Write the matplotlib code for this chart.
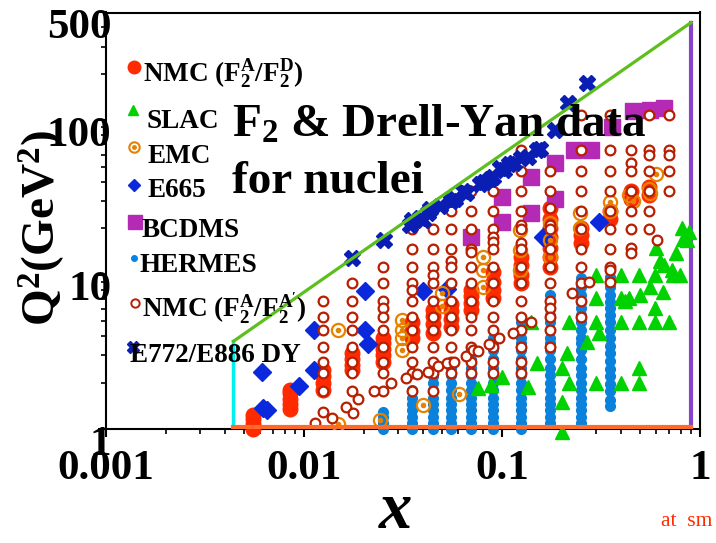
import matplotlib.pyplot as plt
from matplotlib.ticker import FixedLocator, FixedFormatter, NullFormatter
from matplotlib.transforms import ScaledTranslation

plt.rcParams['font.family'] = 'Liberation Serif'
plt.rcParams['font.weight'] = 'bold'
plt.rcParams['mathtext.fontset'] = 'custom'
plt.rcParams['mathtext.rm'] = 'Liberation Serif:bold'
plt.rcParams['mathtext.it'] = 'Liberation Serif:italic:bold'
plt.rcParams['mathtext.bf'] = 'Liberation Serif:bold'

W, H = 716, 543

# NMC F2A/F2D : columns of (x, [Q2 ...])
nmc_d_cols = [
    (0.0055, [1.0, 1.08, 1.16, 1.23]),
    (0.0085, [1.35, 1.45, 1.57, 1.7, 1.78]),
    (0.0125, [1.8, 2.0, 2.2, 2.4]),
    (0.0175, [2.4, 2.6, 2.85, 3.1]),
    (0.025, [2.7, 3.0, 3.3, 3.6, 3.9]),
    (0.035, [3.9, 4.3, 4.9]),
    (0.045, [4.2, 4.8, 5.4, 5.9]),
    (0.055, [4.6, 5.2, 5.8, 6.5]),
    (0.07, [5.9, 6.6, 7.3, 7.9]),
    (0.09, [7.1, 8.0, 9.0, 10.4]),
    (0.125, [8.8, 10.0, 11.5, 13.0]),
    (0.175, [11.2, 13.0, 15.0, 17.5, 20.0, 23.0, 27.0]),
    (0.25, [16.0, 18.0, 20.0]),
    (0.35, [23.0, 26.0]),
    (0.45, [31.0, 35.0]),
    (0.55, [33.0, 37.0]),
]

# NMC F2A/F2A'
nmc_a_cols = [
    (0.0125, [6.8, 5.3, 4.4, 3.4, 2.7, 2.3, 1.76]),
    (0.0175, [8.8, 6.8, 5.3, 4.4, 3.4, 2.7, 2.3, 1.76]),
    (0.025, [11.2, 8.8, 6.8, 6.1, 5.3, 4.4, 3.4, 2.7, 2.3, 1.76]),
    (0.035, [19.7, 14.6, 11.2, 8.8, 7.9, 6.8, 5.3, 4.4, 3.4, 2.7, 2.3, 1.76]),
    (0.045, [19.7, 14.6, 11.2, 9.9, 8.8, 6.8, 5.3, 4.4, 3.4, 2.7, 2.3, 1.76]),
    (0.055, [26, 19.7, 14.6, 12.2, 11.2, 8.8, 6.8, 5.3, 4.4, 3.4, 2.7, 2.3]),
    (0.07, [35, 26, 19.7, 14.6, 14.0, 11.2, 8.8, 6.8, 5.3, 4.4, 3.4, 2.7, 2.3]),
    (0.09, [35, 26, 19.7, 17.5, 16.2, 14.6, 11.2, 8.8, 6.8, 5.3, 4.4, 3.4, 2.7, 2.3]),
    (0.125, [64, 47, 35, 26, 21, 19.7, 16, 14.6, 11.2, 8.8, 6.8, 5.3, 4.4, 3.4, 2.7, 2.3]),
    (0.175, [47, 35, 27, 21, 19.7, 14.6, 11.2, 8.8, 6.8, 6.1, 5.3, 4.4, 3.4]),
    (0.25, [108, 64, 47, 35, 26, 19.7, 14.6, 11.2, 8.8, 6.8, 5.3]),
    (0.35, [108, 64, 47, 35, 26, 19.7, 14.6, 11.2, 10.7, 8.9]),
    (0.45, [64, 53, 47, 35, 26, 19.7, 15, 13.8]),
    (0.55, [108, 64, 60, 47, 35, 26, 19.7]),
    (0.70, [108, 64, 60, 47, 35]),
]
nmc_a_low_x = [0.0114, 0.0125, 0.0138, 0.0163, 0.0177, 0.0187, 0.0226, 0.0275,
               0.0327, 0.0372, 0.0423, 0.0475, 0.0527, 0.0573, 0.0658, 0.0714,
               0.0757, 0.086, 0.0966, 0.114, 0.14, 0.226, 0.275, 0.607]
nmc_a_low_q2 = [1.09, 1.29, 1.18, 1.39, 1.27, 1.56, 1.76, 1.99,
                2.14, 2.27, 2.34, 2.56, 2.67, 2.72, 2.97, 3.25,
                3.2, 3.55, 3.88, 4.18, 4.93, 7.6, 8.9, 16.7]

slac_x = [0.076, 0.088, 0.10, 0.135, 0.15, 0.14,
          0.20, 0.20, 0.20, 0.217, 0.213, 0.217,
          0.269, 0.30, 0.30, 0.31, 0.30, 0.30,
          0.40, 0.40, 0.40, 0.40, 0.42,
          0.49, 0.49, 0.49, 0.49, 0.44, 0.50,
          0.56, 0.59, 0.59, 0.59, 0.60, 0.63,
          0.65, 0.66, 0.70, 0.72, 0.73, 0.76, 0.79, 0.81, 0.82, 0.86, 0.88]
slac_q2 = [1.84, 1.93, 2.17, 1.87, 2.67, 4.9,
           0.96, 1.5, 2.48, 1.98, 3.1, 4.93,
           3.66, 1.98, 4.93, 4.18, 7.05, 9.9,
           1.98, 4.93, 7.05, 9.9, 6.8,
           1.98, 2.48, 4.93, 9.9, 7.05, 7.4,
           8.3, 4.93, 9.9, 6.06, 14.8, 12.3,
           7.7, 11.5, 4.93, 10.7, 10.0, 13.8, 9.9, 20.0, 17.0, 16.7, 19.0]

emc_x = [0.0149, 0.0149, 0.0242, 0.0313, 0.0313, 0.0313, 0.0313, 0.0399,
         0.05, 0.05, 0.0606, 0.080, 0.080, 0.080, 0.123, 0.123, 0.123,
         0.175, 0.175, 0.175, 0.248, 0.248, 0.35, 0.35, 0.44, 0.46,
         0.55, 0.56, 0.60]
emc_q2 = [4.4, 1.08, 1.14, 5.1, 4.4, 3.9, 3.25, 1.43,
          7.6, 6.3, 1.69, 13.0, 10.8, 8.3, 19.5, 14.4, 10.7,
          21.5, 16.7, 13.0, 25.0, 20.0, 29.5, 26.0, 33.0, 30.0,
          36.0, 34.0, 45.0]

e665_x = [0.00614, 0.0062, 0.0065, 0.0094, 0.0112, 0.0112, 0.0204, 0.0204,
          0.021, 0.0399, 0.0527, 0.161, 0.31]
e665_q2 = [2.34, 1.37, 1.33, 1.9, 4.4, 2.4, 7.8, 4.4,
           3.55, 7.8, 8.1, 17.5, 22.0]

bcdms_x = [0.07, 0.10, 0.10, 0.14, 0.14, 0.185, 0.185, 0.23, 0.28, 0.36, 0.46, 0.56, 0.66]
bcdms_q2 = [17.5, 22.0, 32.0, 25.0, 43.0, 31.0, 53.0, 64.0, 64.0, 90.0, 115.0, 117.0, 121.0]

hermes_cols = [
    (0.025, [1.0, 1.1, 1.2, 1.29]),
    (0.035, [1.0, 1.1, 1.2, 1.32, 1.45, 1.6, 1.8]),
    (0.045, [1.0, 1.1, 1.2, 1.32, 1.45, 1.6, 1.8, 2.0, 2.2]),
    (0.055, [1.0, 1.1, 1.2, 1.32, 1.45, 1.6, 1.8, 2.0, 2.25, 2.5]),
    (0.07, [1.0, 1.1, 1.2, 1.32, 1.45, 1.6, 1.8, 2.0, 2.25, 2.5, 2.85, 3.25]),
    (0.09, [1.0, 1.1, 1.2, 1.32, 1.45, 1.6, 1.8, 2.0, 2.25, 2.5, 2.85, 3.25, 3.6, 3.9]),
    (0.125, [1.0, 1.1, 1.2, 1.32, 1.45, 1.6, 1.8, 2.0, 2.25, 2.5, 2.85, 3.25, 3.6,
             3.9, 4.4, 4.9]),
    (0.175, [1.1, 1.2, 1.32, 1.45, 1.6, 1.8, 2.0, 2.25, 2.5, 2.85, 3.25, 3.6, 3.9,
             4.4, 4.9, 5.5, 6.1, 6.7, 7.4]),
    (0.25, [1.1, 1.2, 1.32, 1.45, 1.6, 1.8, 2.0, 2.25, 2.5, 2.85, 3.25, 3.6, 3.9,
            4.4, 4.9, 5.5, 6.1, 6.7, 7.4, 8.3, 9.5]),
    (0.35, [1.4, 1.55, 1.75, 1.95, 2.2, 2.45, 2.75, 3.1, 3.45, 3.9, 4.4, 4.9, 5.5,
            6.1, 6.7, 7.4, 8.3, 9.6]),
]

dy_x = [0.0175, 0.0254, 0.0343, 0.035, 0.0385, 0.040, 0.0423, 0.0435, 0.0486,
        0.055, 0.058, 0.0635, 0.0658, 0.0775, 0.081, 0.087, 0.090, 0.098,
        0.102, 0.108, 0.115, 0.125, 0.135, 0.15, 0.156, 0.185, 0.215, 0.269]
dy_q2 = [12.8, 16.7, 20.9, 22.5, 23.2, 22.5, 25.0, 26.5, 27.8,
         30.0, 30.8, 35.0, 33.7, 38.5, 40.0, 42.0, 43.0, 49.0,
         47.5, 52.0, 52.7, 57.0, 57.6, 64.0, 65.0, 86.0, 129.0, 174.0]

# kinematic boundaries
x_min_cut = 0.0044
x_max_cut = 0.9
q2_corner = 3.7
q2_top = 430.0
q2_floor = 1.035


def flatten(cols):
    xs, qs = [], []
    for x, q in cols:
        xs += [x] * len(q)
        qs += q
    return xs, qs


RED = '#ff2a00'
DARKRED = '#b81e00'
ORANGE = '#e68200'
GREEN = '#00d200'
BLUE = '#0a28dc'
NAVY = '#0a1eb4'
SKY = '#0a82dc'
PURPLE = '#b42ab4'

fig = plt.figure(figsize=(W / 100, H / 100), dpi=100)
ax = fig.add_axes([106 / W, 1 - 429 / H, 594 / W, 416.5 / H])
ax.set_xscale('log')
ax.set_yscale('log')
ax.set_xlim(0.001, 1)
ax.set_ylim(1, 500)

ax.plot([x_min_cut, x_min_cut], [1.0, q2_corner], color='#00f0f0', lw=2.5, zorder=2)
ax.plot([x_min_cut, x_max_cut], [q2_floor, q2_floor], color='#ff6a28', lw=3, zorder=7)
ax.plot([x_max_cut, x_max_cut], [1.0, q2_top], color='#8844c8', lw=3, zorder=2)

hx, hq = flatten(hermes_cols)
ax.plot(hx, hq, 'o', ms=7, color=SKY, mec=SKY, clip_on=False, zorder=3)
dx, dq = flatten(nmc_d_cols)
ax.plot(dx, dq, 'o', ms=10.5, color=RED, mec=RED, clip_on=False, zorder=4)
ax.plot(slac_x, slac_q2, '^', ms=10, color=GREEN, mec=GREEN, clip_on=False, zorder=4)
ax.plot(bcdms_x, bcdms_q2, 's', ms=12, color=PURPLE, mec=PURPLE, zorder=4)
ax.plot(e665_x, e665_q2, 'D', ms=9, color=BLUE, mec=BLUE, zorder=5)
ax.plot(emc_x, emc_q2, 'o', ms=9.5, mfc='none', mec=ORANGE, mew=1.6, zorder=5)
ax.plot(emc_x, emc_q2, 'o', ms=3, color=ORANGE, zorder=5)
ax_, aq = flatten(nmc_a_cols)
ax.plot(ax_ + nmc_a_low_x, aq + nmc_a_low_q2, 'o', ms=7, mfc='white', mec=DARKRED,
        mew=1.6, zorder=6)
ax.plot(dy_x, dy_q2, 'X', ms=11, color=NAVY, mec=NAVY, zorder=6)
ax.plot([x_min_cut, x_max_cut], [q2_corner, q2_top], color='#5cbf1e', lw=2.3, zorder=7)

# axes styling
for side in ['left', 'bottom', 'top', 'right']:
    ax.spines[side].set_linewidth(1.5)
ax.xaxis.set_major_locator(FixedLocator([0.001, 0.01, 0.1, 1]))
ax.xaxis.set_major_formatter(FixedFormatter(['0.001', '0.01', '0.1', '1']))
ax.xaxis.set_minor_formatter(NullFormatter())
ax.yaxis.set_major_locator(FixedLocator([1, 10, 100, 500]))
ax.yaxis.set_major_formatter(FixedFormatter(['1', '10', '100', '500']))
ax.yaxis.set_minor_locator(FixedLocator([2, 3, 4, 5, 6, 7, 8, 9, 20, 30, 40, 50, 60, 70,
                                         80, 90, 200, 300, 400]))
ax.yaxis.set_minor_formatter(NullFormatter())
ax.tick_params(which='major', direction='out', length=6, width=1.5, labelsize=31)
ax.tick_params(which='minor', direction='out', length=3.5, width=1.2)
ax.tick_params(axis='x', pad=9)
ax.tick_params(axis='y', pad=-10)
# y labels sit a little below their ticks
shift = ScaledTranslation(0, -8 / 72, fig.dpi_scale_trans)
for lab in ax.get_yticklabels():
    lab.set_transform(lab.get_transform() + shift)

fig.text(42 / W, 1 - 228 / H, r'Q$^2$(GeV$^2$)', rotation=90, ha='center',
         va='center', fontsize=34)
fig.text(395 / W, 1 - 512 / H, 'x', style='italic', fontsize=48, ha='center',
         va='center')
fig.text(661 / W, 1 - 526 / H, 'at  sm', color=RED, fontsize=15.5,
         fontweight='normal', va='baseline')

fig.text(232 / W, 1 - 137 / H, r'F$_2$ & Drell-Yan data', fontsize=34,
         va='baseline', zorder=10)
fig.text(232 / W, 1 - 193 / H, 'for nuclei', fontsize=34, va='baseline', zorder=10)

# hand-placed key
key = [
    (134, 67, 82, 143, dict(marker='o', ms=9, color=RED), r'NMC (F$_2^{\mathrm{A}}$/F$_2^{\mathrm{D}}$)'),
    (133, 110, 128, 147, dict(marker='^', ms=7.5, color=GREEN), 'SLAC'),
    (134, 147, 163, 147, dict(marker='o', ms=7.5, mfc='none', mec=ORANGE, mew=1.5), 'EMC'),
    (134, 185, 197, 147, dict(marker='D', ms=6.5, color=BLUE), 'E665'),
    (135, 222, 237, 142, dict(marker='s', ms=10, color=PURPLE), 'BCDMS'),
    (134, 258, 272, 139, dict(marker='o', ms=4, color=SKY), 'HERMES'),
    (135, 303, 318, 142, dict(marker='o', ms=6, mfc='white', mec=DARKRED, mew=1.4),
     r"NMC (F$_2^{\mathrm{A}}$/F$_2^{\mathrm{A}'}$)"),
    (133, 347, 362, 130, dict(marker='X', ms=8.5, color=NAVY), 'E772/E886 DY'),
]
for mx, my, ty, tx, style, label in key:
    fig.add_artist(plt.Line2D([mx / W], [1 - my / H], transform=fig.transFigure,
                              linestyle='none', **style))
    fig.text(tx / W, 1 - ty / H, label, fontsize=19.5, va='baseline', zorder=10)
fig.add_artist(plt.Line2D([134 / W], [1 - 147 / H], transform=fig.transFigure,
                          linestyle='none', marker='o', ms=2.5, color=ORANGE))

fig.savefig('out.png', dpi=100)
